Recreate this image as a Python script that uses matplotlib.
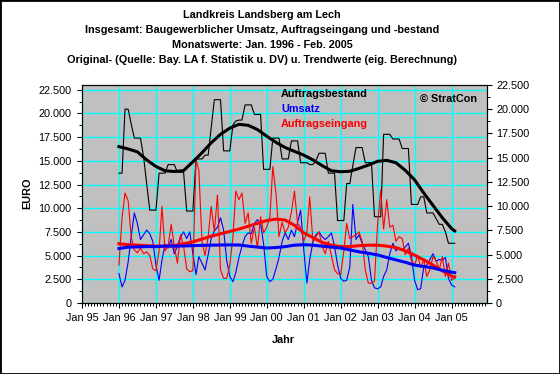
import numpy as np
import pandas as pd
import matplotlib
matplotlib.use("Agg")
import matplotlib.pyplot as plt
import matplotlib.dates as mdates
from matplotlib.ticker import FuncFormatter, MultipleLocator
from matplotlib.patches import Rectangle

plt.rcParams['font.family'] = ['Liberation Sans', 'DejaVu Sans']

# ---------------------------------------------------------------
# Daten (Tsd. EUR), Monatswerte Jan. 1996 - Feb. 2005
# ---------------------------------------------------------------
start_month = '1996-01-01'
n_months = 110

auftragsbestand = [
    13.7, 13.7, 20.45, 20.45, 18.9, 17.4, 17.4, 17.4, 15.4, 12.6, 9.8, 9.8,
    9.8, 13.7, 13.7, 13.7, 14.6, 14.6, 14.6, 13.8, 13.8, 13.8, 9.7, 9.7,
    9.7, 15.2, 15.2, 15.2, 15.6, 15.6, 18.5, 21.45, 21.45, 21.45, 16.05, 16.05,
    16.05, 18.8, 19.2, 19.3, 19.3, 20.9, 20.9, 20.9, 19.9, 19.9, 19.9, 14.1,
    14.1, 14.1, 17.4, 17.4, 17.4, 15.2, 15.2, 15.2, 17.1, 17.1, 17.1, 14.8,
    14.8, 14.8, 14.6, 14.6, 15.0, 15.8, 15.8, 15.8, 13.7, 13.7, 13.7, 8.7,
    8.7, 8.7, 12.6, 12.6, 14.5, 16.4, 16.4, 16.4, 14.8, 14.8, 14.8, 9.1,
    9.1, 9.1, 17.8, 17.8, 17.8, 17.3, 17.3, 17.3, 16.3, 16.3, 16.3, 10.4,
    10.4, 10.4, 11.2, 11.2, 9.5, 9.5, 9.5, 8.9, 8.3, 8.3, 7.5, 6.3,
    6.3, 6.3,
]

umsatz = [
    3.1, 1.7, 2.4, 4.3, 7.0, 9.5, 8.4, 6.7, 7.2, 7.7, 7.3, 6.5,
    4.0, 2.4, 4.5, 6.2, 5.8, 6.7, 5.2, 6.0, 7.0, 7.5, 6.8, 7.5,
    5.2, 3.0, 4.9, 4.2, 3.5, 5.1, 6.8, 7.6, 8.0, 9.0, 7.7, 4.5,
    2.8, 2.25, 3.2, 4.8, 6.0, 7.0, 7.4, 7.3, 8.4, 8.8, 8.4, 6.2,
    2.8, 2.25, 2.5, 3.6, 4.8, 6.5, 7.4, 6.7, 7.7, 7.0, 8.5, 9.8,
    5.6, 2.1, 4.6, 6.4, 7.2, 7.5, 7.0, 6.7, 7.0, 7.4, 6.0, 4.0,
    2.6, 2.3, 2.4, 3.8, 10.4, 6.7, 7.2, 6.3, 5.6, 4.9, 2.4, 1.6,
    1.5, 1.7, 2.8, 3.5, 5.2, 6.3, 5.5, 5.8, 5.6, 5.9, 6.3, 5.0,
    2.4, 1.4, 1.5, 3.8, 4.0, 4.6, 5.2, 4.4, 4.6, 4.5, 4.8, 2.6,
    1.9, 1.7,
]

auftragseingang = [
    4.0, 9.0, 11.6, 10.8, 7.0, 5.6, 5.3, 5.8, 5.2, 5.4, 5.0, 3.6,
    3.4, 5.5, 10.2, 5.5, 6.0, 8.3, 6.0, 4.2, 7.2, 6.0, 3.6, 3.3,
    3.4, 15.1, 14.0, 6.5, 5.0, 7.0, 10.2, 7.5, 11.4, 3.5, 2.6, 2.6,
    4.0, 7.0, 11.8, 10.9, 11.6, 8.4, 9.5, 6.3, 8.0, 5.8, 9.1, 7.4,
    8.0, 9.0, 14.4, 11.6, 7.0, 8.5, 7.4, 8.0, 9.6, 11.8, 8.4, 8.0,
    6.5, 7.5, 11.2, 6.5, 7.0, 7.5, 6.0, 5.2, 6.5, 5.0, 3.5, 3.1,
    3.0, 5.5, 8.4, 6.8, 7.0, 7.2, 7.5, 6.5, 3.5, 2.1, 2.1, 2.3,
    8.4, 11.9, 7.8, 10.9, 8.0, 8.2, 6.5, 7.0, 6.8, 5.1, 5.8, 4.5,
    4.0, 5.0, 3.8, 4.5, 2.8, 3.5, 4.9, 4.5, 3.5, 4.9, 2.8, 4.2,
    2.4, 2.6,
]

# Trendwerte (jedes Quartal + letzter Monat)
trend_month_idx = list(range(0, 110, 3)) + [109]

trend_bestand = [
    16.5, 16.25, 15.95, 15.1, 14.4, 13.95, 13.87, 13.97, 14.9, 15.85,
    16.9, 17.8, 18.45, 18.85, 18.75, 18.3, 17.6, 16.95, 16.4, 16.0,
    15.6, 15.1, 14.5, 13.95, 13.85, 13.9, 14.2, 14.55, 14.95, 15.05,
    14.8, 14.0, 13.0, 11.6, 10.3, 9.0, 7.85, 7.6,
]

trend_umsatz = [
    5.75, 5.9, 5.92, 5.95, 5.95, 6.0, 6.0, 6.02, 6.05, 6.08,
    6.1, 6.12, 6.13, 6.12, 6.0, 5.9, 5.8, 5.85, 5.95, 6.1,
    6.15, 6.1, 6.0, 5.9, 5.8, 5.6, 5.4, 5.25, 5.07, 4.8,
    4.55, 4.3, 4.0, 3.85, 3.7, 3.45, 3.25, 3.2,
]

trend_eingang = [
    6.25, 6.15, 6.1, 6.05, 6.0, 6.0, 6.05, 6.25, 6.45, 6.75,
    7.05, 7.3, 7.55, 7.8, 8.1, 8.4, 8.7, 8.85, 8.75, 8.2,
    7.4, 6.9, 6.4, 6.1, 5.95, 5.95, 6.05, 6.1, 6.1, 6.0,
    5.85, 5.5, 5.05, 4.55, 4.0, 3.4, 2.85, 2.75,
]

titel = [
    "Landkreis Landsberg am Lech",
    "Insgesamt: Baugewerblicher Umsatz, Auftragseingang und -bestand",
    "Monatswerte: Jan. 1996 - Feb. 2005",
    "Original- (Quelle: Bay. LA f. Statistik u. DV) u. Trendwerte (eig. Berechnung)",
]

# ---------------------------------------------------------------
# Grafik
# ---------------------------------------------------------------
W, H = 560, 374
FS = 7.8

months = pd.date_range(start_month, periods=n_months, freq='MS')
trend_dates = months[trend_month_idx]

fig = plt.figure(figsize=(W / 100, H / 100), dpi=100)
fig.patch.set_facecolor('white')

ax = fig.add_axes([82 / W, 1 - 303 / H, (487 - 82) / W, (303 - 85) / H])
ax.set_facecolor('#C0C0C0')

k = 1000.0
ax.plot(months, np.array(auftragsbestand) * k, color='black', lw=0.8)
ax.plot(months, np.array(umsatz) * k, color='#0000FF', lw=0.8)
ax.plot(months, np.array(auftragseingang) * k, color='#FF0000', lw=0.8)
ax.plot(trend_dates, np.array(trend_eingang) * k, color='#FF0000', lw=2.2)
ax.plot(trend_dates, np.array(trend_umsatz) * k, color='#0000FF', lw=2.2)
ax.plot(trend_dates, np.array(trend_bestand) * k, color='black', lw=2.2)

ax.set_xlim(pd.Timestamp('1995-01-01'), pd.Timestamp('2005-12-17'))
ax.set_ylim(0, 23000)

ax.xaxis.set_major_locator(mdates.YearLocator())
ax.xaxis.set_minor_locator(mdates.MonthLocator())
ax.xaxis.set_major_formatter(mdates.DateFormatter('Jan %y'))
ax.yaxis.set_major_locator(MultipleLocator(2500))
ax.yaxis.set_minor_locator(MultipleLocator(1250))

fmt = FuncFormatter(lambda v, p: f"{int(round(v)):,}".replace(",", "."))
ax.yaxis.set_major_formatter(fmt)

ax.grid(True, which='major', color='#00FFFF', lw=1.0)
ax.set_axisbelow(True)
ax.tick_params(which='major', length=3.5, width=0.8, labelsize=FS, pad=4)
ax.tick_params(which='minor', length=2, width=0.7)
for s in ax.spines.values():
    s.set_color('black')
    s.set_linewidth(0.8)

ax2 = ax.twinx()
ax2.set_ylim(0, 22500)
ax2.yaxis.set_major_locator(MultipleLocator(2500))
ax2.yaxis.set_minor_locator(MultipleLocator(1250))
ax2.yaxis.set_major_formatter(fmt)
ax2.tick_params(which='major', length=3.5, width=0.8, labelsize=FS, pad=3)
ax2.tick_params(which='minor', length=2, width=0.7)
for s in ax2.spines.values():
    s.set_color('black')
    s.set_linewidth(0.8)

# Titel
for i, t in enumerate(titel):
    fig.text(262 / W, 1 - (15 + 15 * i) / H, t, ha='center', va='center',
             fontsize=FS, fontweight='bold')

# Achsentitel
fig.text(27 / W, 1 - 193 / H, 'EURO', rotation=90, ha='center', va='center',
         fontsize=FS, fontweight='bold')
fig.text(283 / W, 1 - 340 / H, 'Jahr', ha='center', va='center',
         fontsize=FS, fontweight='bold')

# Legende als Text
leg = [('Auftragsbestand', 'black'), ('Umsatz', '#0000FF'),
       ('Auftragseingang', '#FF0000')]
for i, (name, c) in enumerate(leg):
    fig.text(281 / W, 1 - (94 + 15 * i) / H, name, ha='left', va='center',
             fontsize=FS, fontweight='bold', color=c)
fig.text(420 / W, 1 - 99 / H, '© StratCon', ha='left', va='center',
         fontsize=FS, fontweight='bold', color='black')

fig.add_artist(Rectangle((0, 0), 1, 1, transform=fig.transFigure,
                         fill=False, ec='black', lw=2))

fig.savefig('out.png', dpi=100)
